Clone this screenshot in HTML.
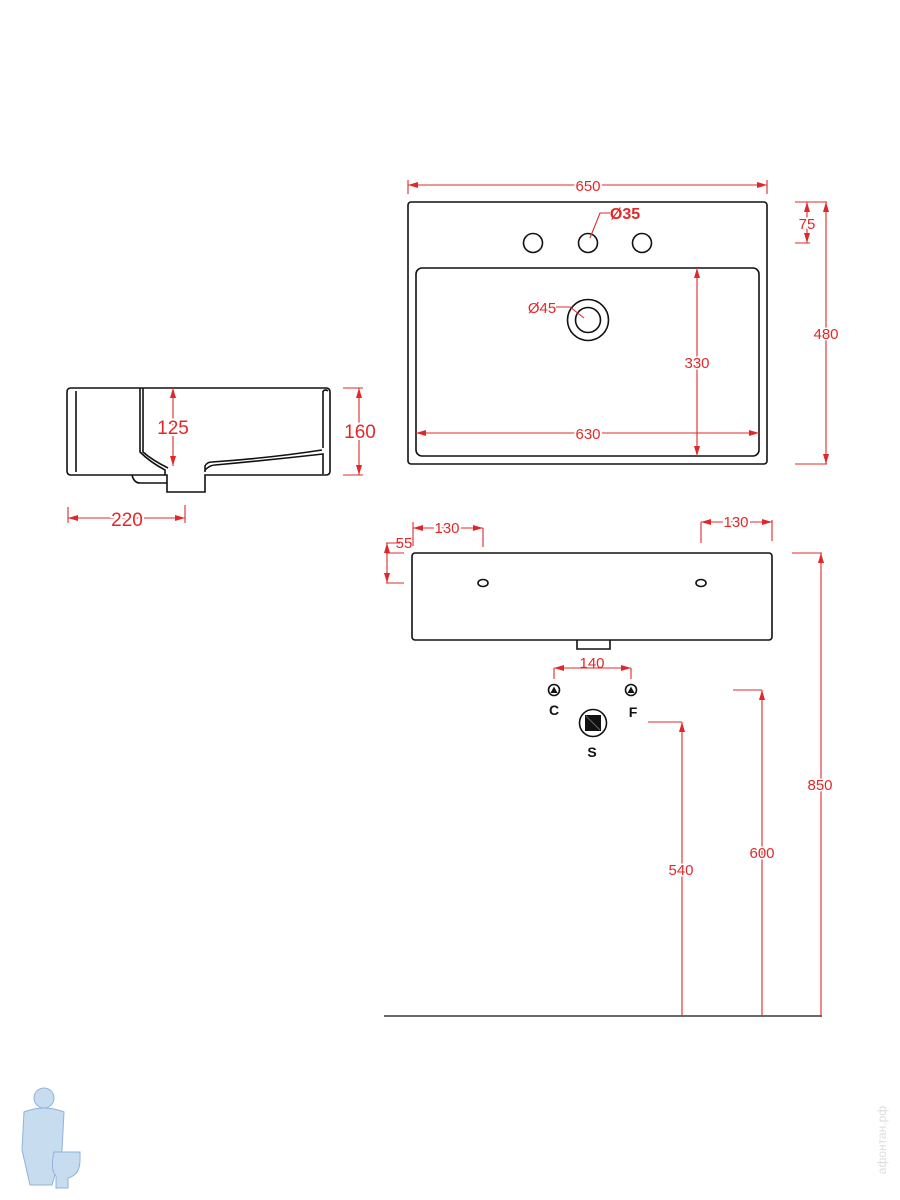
<!DOCTYPE html>
<html><head><meta charset="utf-8"><style>
html,body{margin:0;padding:0;background:#fff;width:900px;height:1200px;overflow:hidden}
svg{display:block}
text{font-family:"Liberation Sans",sans-serif;fill:#e0282a}
</style></head><body>
<svg width="900" height="1200" viewBox="0 0 900 1200" xmlns="http://www.w3.org/2000/svg">
<defs>
<marker id="a" viewBox="0 0 10 6" refX="10" refY="3" markerWidth="10" markerHeight="6" orient="auto-start-reverse" markerUnits="userSpaceOnUse"><path d="M0,0 L10,3 L0,6z" fill="#e0282a"/></marker>
</defs>
<g fill="none" stroke="#111" stroke-width="1.6">
<rect x="408" y="202" width="359" height="262" rx="3"/>
<rect x="416" y="268" width="343" height="188" rx="6"/>
<circle cx="533" cy="243" r="9.5"/><circle cx="588" cy="243" r="9.5"/><circle cx="642" cy="243" r="9.5"/>
<circle cx="588" cy="320" r="20.5"/><circle cx="588" cy="320" r="12.5"/>
<path d="M71,388 H326 Q330,388 330,392 V471 Q330,475 326,475 H205 V492 H167 V475 H71 Q67,475 67,471 V392 Q67,388 71,388Z"/>
<path d="M76,391 V472"/>
<path d="M140,388 V452 Q150,462 165,470 V475"/>
<path d="M143,388 V452 Q152,460 168,468"/>
<path d="M132,475 Q134,483 140,483 H167"/>
<path d="M205,472 V466 Q207,462 212,462 Q270,458 322,450"/>
<path d="M205,470 Q210,465 215,465 Q270,460 323,454 V474"/>
<path d="M323,391 Q326,389 328,391"/>
<path d="M323,391 V448"/>
<rect x="412" y="553" width="360" height="87" rx="3"/>
<ellipse cx="483" cy="583" rx="5" ry="3.5"/><ellipse cx="701" cy="583" rx="5" ry="3.5"/>
<path d="M577,640 V649 H610 V640"/>
<circle cx="554" cy="690" r="5.5"/><circle cx="631" cy="690" r="5.5"/>
<circle cx="593" cy="723" r="13.5"/>
<path d="M384,1016 H822" stroke-width="1.3"/>
</g>
<rect x="585" y="715" width="16" height="16" fill="#111"/>
<path d="M586,716 L600,730" stroke="#666" stroke-width="1"/>
<path d="M550.5,693 L554,686.5 L557.5,693z M627.5,693 L631,686.5 L634.5,693z" fill="#111"/>
<g fill="none" stroke="#e0282a" stroke-width="1.1">
<path d="M408,180 V194 M767,180 V194"/>
<path d="M408,185 H767" marker-start="url(#a)" marker-end="url(#a)"/>
<path d="M795,202 H827 M795,243 H810 M795,464 H827"/>
<path d="M807,202 V243" marker-start="url(#a)" marker-end="url(#a)"/>
<path d="M826,202 V464" marker-start="url(#a)" marker-end="url(#a)"/>
<path d="M697,268 V456" marker-start="url(#a)" marker-end="url(#a)"/>
<path d="M416,433 H759" marker-start="url(#a)" marker-end="url(#a)"/>
<path d="M610,213 H600 L590,238"/>
<path d="M556,307 H570 L584,318"/>
<path d="M173,388 V466" marker-start="url(#a)" marker-end="url(#a)"/>
<path d="M343,388 H363 M343,475 H363"/>
<path d="M359,388 V475" marker-start="url(#a)" marker-end="url(#a)"/>
<path d="M68,507 V523 M185,505 V523"/>
<path d="M68,518 H185" marker-start="url(#a)" marker-end="url(#a)"/>
<path d="M413,522 V546 M483,528 V547"/>
<path d="M413,528 H483" marker-start="url(#a)" marker-end="url(#a)"/>
<path d="M701,522 V543 M772,520 V541"/>
<path d="M701,522 H772" marker-start="url(#a)" marker-end="url(#a)"/>
<path d="M386,543 H400 M386,553 H404 M386,583 H404"/>
<path d="M387,543 V583" marker-start="url(#a)" marker-end="url(#a)"/>
<path d="M554,668 V679 M631,668 V679"/>
<path d="M554,668 H631" marker-start="url(#a)" marker-end="url(#a)"/>
<path d="M792,553 H822 M733,690 H762 M648,722 H682"/>
<path d="M821,553 V1016" marker-start="url(#a)"/>
<path d="M762,690 V1016" marker-start="url(#a)"/>
<path d="M682,722 V1016" marker-start="url(#a)"/>
</g>
<g font-size="15" text-anchor="middle">
<text x="588" y="191" style="paint-order:stroke;stroke:#fff;stroke-width:4">650</text>
<text x="625" y="219" font-weight="bold" font-size="16">Ø35</text>
<text x="807" y="229" style="paint-order:stroke;stroke:#fff;stroke-width:3">75</text>
<text x="826" y="339" style="paint-order:stroke;stroke:#fff;stroke-width:3">480</text>
<text x="697" y="368" style="paint-order:stroke;stroke:#fff;stroke-width:3">330</text>
<text x="588" y="439" style="paint-order:stroke;stroke:#fff;stroke-width:4">630</text>
<text x="542" y="313">Ø45</text>
<text x="173" y="434" font-size="19" style="paint-order:stroke;stroke:#fff;stroke-width:4">125</text>
<text x="360" y="438" font-size="19" style="paint-order:stroke;stroke:#fff;stroke-width:4">160</text>
<text x="127" y="526" font-size="19" style="paint-order:stroke;stroke:#fff;stroke-width:4">220</text>
<text x="447" y="533" style="paint-order:stroke;stroke:#fff;stroke-width:4">130</text>
<text x="736" y="527" style="paint-order:stroke;stroke:#fff;stroke-width:4">130</text>
<text x="404" y="548">55</text>
<text x="592" y="668">140</text>
<text x="820" y="790" style="paint-order:stroke;stroke:#fff;stroke-width:3">850</text>
<text x="762" y="858" style="paint-order:stroke;stroke:#fff;stroke-width:3">600</text>
<text x="681" y="875" style="paint-order:stroke;stroke:#fff;stroke-width:3">540</text>
</g>
<g font-size="14" font-weight="bold" text-anchor="middle">
<text x="554" y="715" style="fill:#111">C</text>
<text x="633" y="717" style="fill:#111">F</text>
<text x="592" y="757" style="fill:#111">S</text>
</g>
<g fill="#c8dcf0" stroke="#8fb2da" stroke-width="1">
<circle cx="44" cy="1098" r="10"/>
<path d="M24,1112 Q44,1104 64,1112 L62,1150 L52,1185 H30 L22,1150Z"/>
<path d="M54,1152 H80 V1160 Q80,1175 68,1178 V1188 H56 V1176 Q50,1170 54,1152Z"/>
</g>
<text x="886" y="1140" font-size="12" transform="rotate(-90 886 1140)" text-anchor="middle" style="fill:#ddd">афонтан.рф</text>
</svg>
</body></html>
